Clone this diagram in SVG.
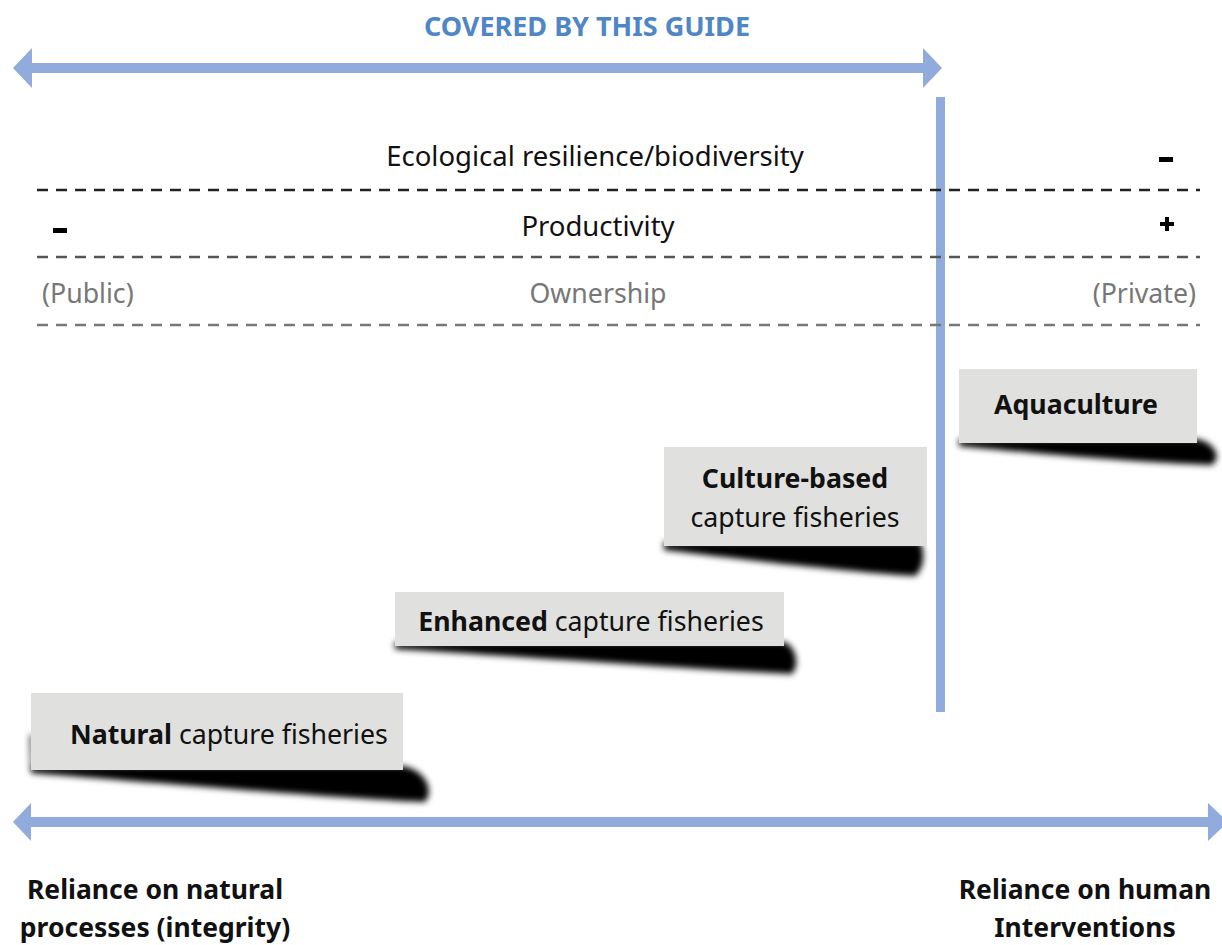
<svg xmlns="http://www.w3.org/2000/svg" width="1222" height="945" viewBox="0 0 1222 945">
<style>
.t{font-family:"Noto Sans","Liberation Sans",sans-serif;font-size:26.7px;fill:#111}
.b{font-weight:bold}
.g{fill:#777}
.box{fill:#e0e0de}
.sh{fill:#000;filter:url(#blur)}
.arr{fill:#91acdc}
</style>
<defs>
<filter id="blur" x="-20%" y="-100%" width="140%" height="300%"><feGaussianBlur stdDeviation="3"/></filter>
</defs>
<rect width="1222" height="945" fill="#fff"/>
<g id="connectors">
<polygon class="arr" points="13,68 32,48 32,63 923,63 923,48 942,68 923,88 923,73 32,73 32,88"/>
<rect class="arr" x="936" y="97" width="9" height="615"/>
<polygon class="arr" points="13,822 31,803 31,817 1208,817 1208,803 1228,822 1208,841 1208,827 31,827 31,841"/>
<line x1="37" y1="190" x2="1200" y2="190" stroke="#222" stroke-width="2.5" stroke-dasharray="11,8"/>
<line x1="37" y1="257" x2="1200" y2="257" stroke="#555" stroke-width="2.5" stroke-dasharray="11,8"/>
<line x1="37" y1="325" x2="1200" y2="325" stroke="#777" stroke-width="2.5" stroke-dasharray="11,8"/>
</g>
<g id="header">
<text class="t b" x="587" y="36" text-anchor="middle" style="fill:#4f86c6;font-size:27px">COVERED BY THIS GUIDE</text>
</g>
<g id="scales">
<text class="t" x="595" y="166" text-anchor="middle" style="font-size:27.5px">Ecological resilience/biodiversity</text>
<rect x="1159" y="157" width="14" height="5" fill="#000"/>
<text class="t" x="598" y="236" text-anchor="middle" style="font-size:27.5px">Productivity</text>
<rect x="53" y="228" width="14" height="5" fill="#000"/>
<rect x="1160" y="222" width="14" height="4" fill="#000"/>
<rect x="1165" y="217" width="4" height="14" fill="#000"/>
<text class="t g" x="598" y="303" text-anchor="middle">Ownership</text>
<text class="t g" x="42" y="303">(Public)</text>
<text class="t g" x="1196" y="303" text-anchor="end">(Private)</text>
</g>
<g id="aquaculture">
<path class="sh" d="M959,439 L1197,439 C1215,443 1222,457 1212,465 C1140,463 1020,452 959,446 Z"/>
<rect class="box" x="959" y="369" width="238" height="74"/>
<text class="t b" x="1076" y="414" text-anchor="middle">Aquaculture</text>
</g>
<g id="culture-based">
<path class="sh" d="M664,542 L920,542 C925,550 925,568 915,576 C850,572 730,558 664,550 Z"/>
<rect class="box" x="664" y="447" width="263" height="99"/>
<text class="t b" x="795" y="488" text-anchor="middle">Culture-based</text>
<text class="t" x="795" y="527" text-anchor="middle">capture fisheries</text>
</g>
<g id="enhanced">
<path class="sh" d="M395,642 L784,642 C796,646 800,665 792,674 C700,670 500,655 395,649 Z"/>
<rect class="box" x="395" y="592" width="389" height="54"/>
<text class="t" x="591" y="631" text-anchor="middle"><tspan class="b">Enhanced</tspan> capture fisheries</text>
</g>
<g id="natural">
<path class="sh" d="M30,735 L33,735 L33,766 L403,766 C425,770 435,790 425,802 C330,798 150,782 31,773 Z"/>
<rect class="box" x="31" y="693" width="372" height="77"/>
<text class="t" x="70" y="744"><tspan class="b">Natural</tspan> capture fisheries</text>
</g>
<g id="axis-labels">
<text class="t b" x="155" y="899" text-anchor="middle" style="font-size:26.5px">Reliance on natural</text>
<text class="t b" x="155" y="937" text-anchor="middle" style="font-size:26.5px">processes (integrity)</text>
<text class="t b" x="1085" y="899" text-anchor="middle" style="font-size:26.5px">Reliance on human</text>
<text class="t b" x="1085" y="937" text-anchor="middle" style="font-size:26.5px">Interventions</text>
</g>
</svg>
